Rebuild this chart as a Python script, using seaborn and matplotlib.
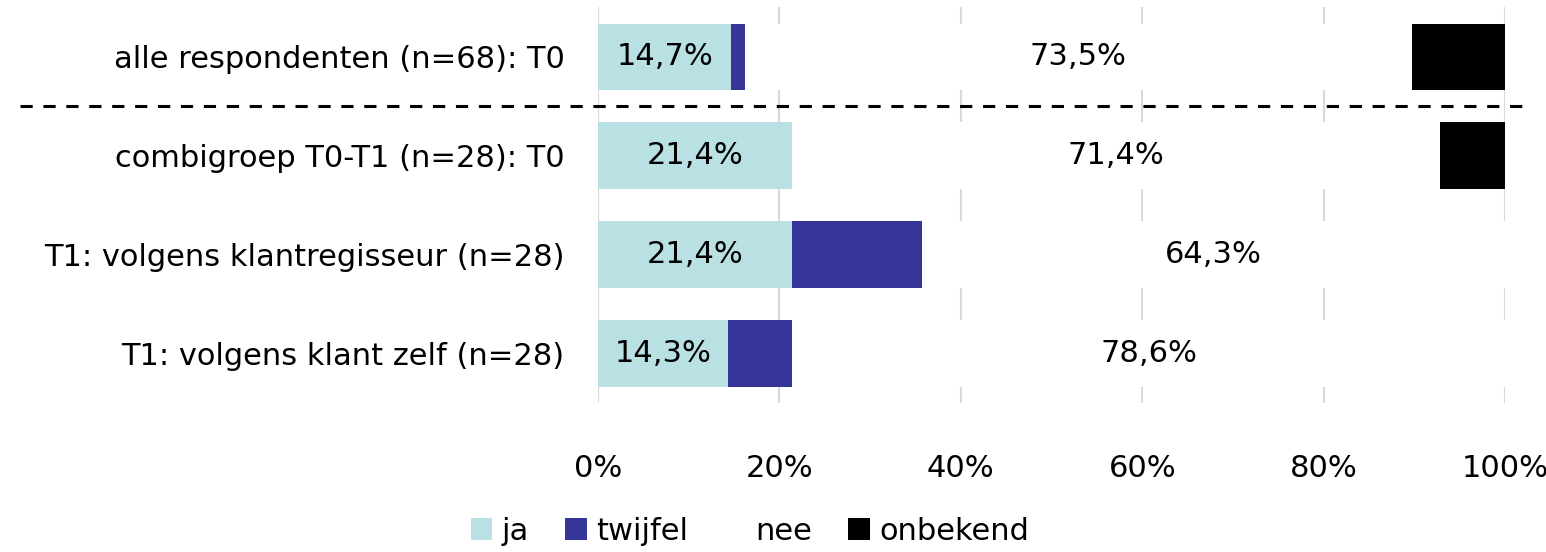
import matplotlib
matplotlib.use("Agg")
import matplotlib.pyplot as plt
import matplotlib.transforms as mtransforms
from matplotlib.patches import Patch
import numpy as np
import pandas as pd
import seaborn as sns

# data (percentages per row)
categories = [
    "alle respondenten (n=68): T0",
    "combigroep T0-T1 (n=28): T0",
    "T1: volgens klantregisseur (n=28)",
    "T1: volgens klant zelf (n=28)",
]
ja = [14.7, 21.4, 21.4, 14.3]
twijfel = [1.5, 0.0, 14.3, 7.1]
nee = [73.5, 71.4, 64.3, 78.6]
onbekend = [10.3, 7.2, 0.0, 0.0]

series_names = ["ja", "twijfel", "nee", "onbekend"]
colors = {"ja": "#b9e0e3", "twijfel": "#35359a", "nee": "#ffffff", "onbekend": "#000000"}

sns.set_theme(style="white", rc={"text.color": "black", "xtick.color": "black",
                                 "ytick.color": "black"})
plt.rcParams["font.family"] = ["DejaVu Sans"]

df = pd.DataFrame({"cat": categories, "ja": ja, "twijfel": twijfel,
                   "nee": nee, "onbekend": onbekend})
cum = df[series_names].cumsum(axis=1)

fig = plt.figure(figsize=(15.46, 5.52), dpi=100)
ax = fig.add_axes([0.3868, 0.27, 0.5867, 0.717])

# stacked bars: draw cumulative totals from back to front
for name in reversed(series_names):
    sns.barplot(x=cum[name], y=df["cat"], color=colors[name], width=0.67,
                saturation=1, ax=ax, linewidth=0, zorder=2)

# value labels for ja and nee
for i in range(len(categories)):
    ax.text(ja[i] / 2, i, f"{ja[i]:.1f}%".replace(".", ","), ha="center",
            va="center", fontsize=22, zorder=5)
    start = ja[i] + twijfel[i]
    ax.text(start + nee[i] / 2, i, f"{nee[i]:.1f}%".replace(".", ","),
            ha="center", va="center", fontsize=22, zorder=5)

ax.set_xlim(0, 100)
ax.set_ylim(3.5, -0.5)
ax.set_xticks(np.arange(0, 101, 20))
ax.set_xticklabels([f"{t}%" for t in range(0, 101, 20)])
ax.set_xlabel("")
ax.set_ylabel("")
ax.tick_params(axis="x", labelsize=22, pad=37, length=0)
ax.tick_params(axis="y", labelsize=22, pad=24, length=0)
ax.grid(axis="x", color="#d9d9d9", linewidth=1.5)
ax.set_axisbelow(True)
for s in ax.spines.values():
    s.set_visible(False)

# dashed separator between first row and the rest
trans = mtransforms.blended_transform_factory(ax.transAxes, ax.transData)
ax.plot([-0.637, 1.028], [0.5, 0.5], transform=trans, color="black",
        linewidth=2.2, linestyle=(0, (4, 3.5)), clip_on=False, zorder=6)

handles = [Patch(facecolor=colors[n], edgecolor="none") for n in series_names]
fig.legend(handles, series_names, loc="center", bbox_to_anchor=(0.485, 0.038),
           ncol=4, frameon=False, fontsize=22, handlelength=0.7,
           handleheight=0.7, handletextpad=0.3, columnspacing=1.2)

fig.savefig("out.png", dpi=100)
